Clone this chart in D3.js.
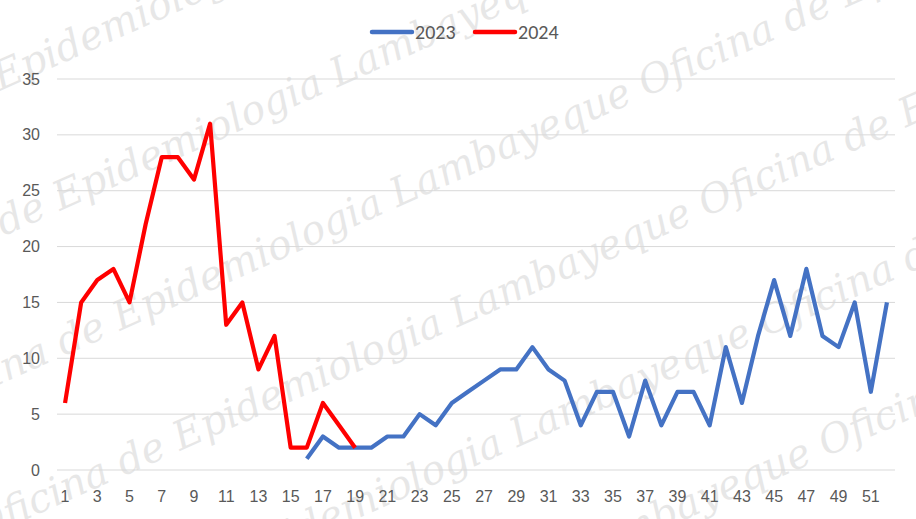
<!DOCTYPE html>
<html>
<head>
<meta charset="utf-8">
<script src="https://cdn.jsdelivr.net/npm/d3@7"></script>
<style>
  body { margin: 0; background: #fff; }
  svg { display: block; font-family: Calibri, Carlito, "Liberation Sans", sans-serif; }
</style>
</head>
<body>
<svg id="chart" width="916" height="519"></svg>
<script>
// semanas epidemiologicas
const weeks = d3.range(1, 53);
const yTicks = [0, 5, 10, 15, 20, 25, 30, 35];

// 2023: semanas 16 a 52
const weeks2023 = d3.range(16, 53);
const values2023 = [1, 3, 2, 2, 2, 3, 3, 5, 4, 6, 7, 8, 9, 9, 11, 9, 8, 4, 7, 7,
                    3, 8, 4, 7, 7, 4, 11, 6, 12, 17, 12, 18, 12, 11, 15, 7, 15];
// 2024: semanas 1 a 19
const weeks2024 = d3.range(1, 20);
const values2024 = [6, 15, 17, 18, 15, 22, 28, 28, 26, 31, 13, 15, 9, 12, 2, 2, 6, 4, 2];

const series = [
  { name: '2023', color: '#4472C4', x: weeks2023, y: values2023 },
  { name: '2024', color: '#FF0000', x: weeks2024, y: values2024 }
];

const svg = d3.select('#chart');
const margin = { left: 57, right: 21, top: 79, bottom: 49 };
const W = 916, H = 519;

// marca de agua
const wm = svg.append('g').attr('fill', '#000').attr('opacity', 0.09)
  .style('font-family', '"DejaVu Serif", serif').style('font-style', 'italic')
  .style('font-size', '40px');
for (let r = -4; r < 9; r++) {
  wm.append('text')
    .attr('transform', `translate(${-200 + r * 60}, ${180 + r * 120}) rotate(-24)`)
    .text('Oficina de Epidemiologia Lambayeque   Oficina de Epidemiologia Lambayeque   Oficina de Epidemiologia Lambayeque');
}

const x = d3.scaleBand().domain(weeks).range([margin.left, W - margin.right]);
const y = d3.scaleLinear().domain([0, 35]).range([H - margin.bottom, margin.top]);
const cx = d => x(d) + x.bandwidth() / 2;

// grilla
svg.append('g').selectAll('line').data(yTicks).join('line')
  .attr('x1', margin.left).attr('x2', W - margin.right)
  .attr('y1', d => y(d)).attr('y2', d => y(d))
  .attr('stroke', '#d9d9d9').attr('stroke-width', 1);

// ejes
const yAxis = svg.append('g').attr('transform', `translate(${margin.left - 17},0)`)
  .call(d3.axisLeft(y).tickValues(yTicks).tickSize(0).tickPadding(0));
yAxis.select('.domain').remove();
yAxis.selectAll('text').attr('fill', '#595959').style('font-size', '16px')
  .style('font-family', 'inherit');

const xAxis = svg.append('g').attr('transform', `translate(0,${H - margin.bottom + 17})`)
  .call(d3.axisBottom(x).tickValues(weeks.filter(d => d % 2 === 1)).tickSize(0).tickPadding(4));
xAxis.select('.domain').remove();
xAxis.selectAll('text').attr('fill', '#595959').style('font-size', '16px')
  .style('font-family', 'inherit');

// lineas
const line = d3.line().x(d => cx(d[0])).y(d => y(d[1]));
series.forEach(s => {
  svg.append('path')
    .datum(s.x.map((w, i) => [w, s.y[i]]))
    .attr('d', line)
    .attr('fill', 'none')
    .attr('stroke', s.color)
    .attr('stroke-width', 4.2)
    .attr('stroke-linejoin', 'round');
});

// leyenda
const legend = svg.append('g').attr('transform', 'translate(372,32)');
series.forEach((s, i) => {
  const g = legend.append('g').attr('transform', `translate(${i * 103},0)`);
  g.append('line').attr('x1', 0).attr('x2', 40).attr('y1', 0).attr('y2', 0)
    .attr('stroke', s.color).attr('stroke-width', 4.5).attr('stroke-linecap', 'round');
  g.append('text').attr('x', 43).attr('y', 7).attr('fill', '#595959')
    .style('font-size', '20px').text(s.name);
});
</script>
</body>
</html>
